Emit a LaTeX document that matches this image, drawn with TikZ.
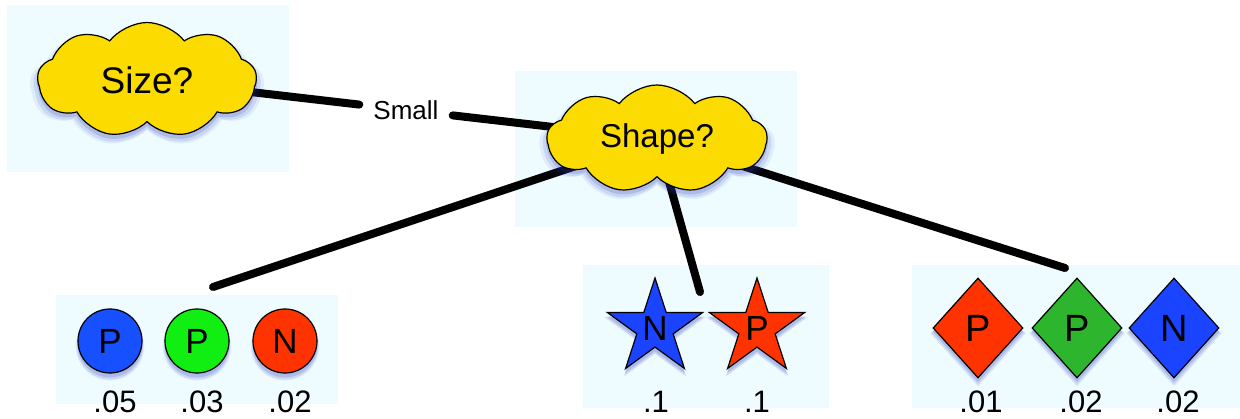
\documentclass[tikz,border=0pt]{standalone}
\usepackage{fontspec}
\setmainfont{Liberation Sans}
\usetikzlibrary{shapes.symbols,shapes.geometric,shadows}
\definecolor{panelc}{HTML}{EEFCFF}
\definecolor{cloudy}{HTML}{FCDC00}
\definecolor{cblue}{HTML}{1650FF}
\definecolor{cgreen}{HTML}{11EE11}
\definecolor{cred}{HTML}{FF3300}
\definecolor{dgreen}{HTML}{2DB52D}
\definecolor{sblue}{HTML}{1A44FF}
\definecolor{shadowc}{HTML}{3040C0}
\pgfdeclarelayer{back}
\pgfdeclarelayer{mid}
\pgfsetlayers{back,mid,main}
\tikzset{
  panel/.style={fill=panelc},
  bshadow/.style={
    drop shadow={shadow xshift=0pt,shadow yshift=-5pt,shadow scale=1.07,opacity=0.08,fill=shadowc},
    drop shadow={shadow xshift=0pt,shadow yshift=-5pt,shadow scale=1.04,opacity=0.12,fill=shadowc},
    drop shadow={shadow xshift=0pt,shadow yshift=-4pt,shadow scale=1.01,opacity=0.18,fill=shadowc}},
  edge/.style={draw=black,line width=8pt,line cap=round},
  cloudnode/.style={cloud,cloud puffs=9,cloud puff arc=105,cloud ignores aspect,draw=black,line width=1.2pt,fill=cloudy,inner sep=0pt,bshadow},
  ball/.style={circle,draw=black,line width=1.2pt,minimum size=64pt,inner sep=0pt,bshadow,font=\fontsize{35}{40}\selectfont},
  starnode/.style={star,star points=5,star point ratio=2.618,draw=black,line width=1.2pt,minimum size=100pt,inner sep=0pt,bshadow,font=\fontsize{35}{40}\selectfont},
  dia/.style={diamond,draw=black,line width=1.2pt,minimum width=90pt,minimum height=100pt,inner sep=0pt,bshadow,font=\fontsize{38}{44}\selectfont},
  prob/.style={inner sep=0pt,font=\fontsize{31}{36}\selectfont},
}
\begin{document}
\begin{tikzpicture}[x=1pt,y=1pt]
\useasboundingbox (0,0) rectangle (1240,418);
\begin{pgfonlayer}{back}
\fill[panel] (7,246) rectangle (289,413);
\fill[panel] (515,191) rectangle (797,347);
\fill[panel] (56,14) rectangle (338,123);
\fill[panel] (583,10) rectangle (829,153);
\fill[panel] (912,10) rectangle (1240,153);
\end{pgfonlayer}
% questions
\node[cloudnode,minimum width=219pt,minimum height=115pt,font=\fontsize{37}{42}\selectfont] (size) at (147,338) {Size?};
\node[cloudnode,minimum width=220pt,minimum height=108pt,font=\fontsize{33}{38}\selectfont] (shape) at (657,279) {Shape?};
\node[inner xsep=14pt,inner ysep=4pt,font=\fontsize{26}{30}\selectfont] (small) at (406,308) {Small};
% leaves
\node[ball,fill=cblue] (b1) at (110,77) {P};
\node[ball,fill=cgreen] (b2) at (197,77) {P};
\node[ball,fill=cred] (b3) at (285,77) {N};
\node[starnode,fill=sblue] (s1) at (655,90) {N};
\node[starnode,fill=cred] (s2) at (757,90) {P};
\node[dia,fill=cred] (d1) at (978,90) {P};
\node[dia,fill=dgreen] (d2) at (1077,90) {P};
\node[dia,fill=sblue] (d3) at (1174,90) {N};
% probabilities
\node[prob] (pb1) at (115,16) {.05};
\node[prob] (pb2) at (202,16) {.03};
\node[prob] (pb3) at (290,16) {.02};
\node[prob] (ps1) at (656,16) {.1};
\node[prob] (ps2) at (757,16) {.1};
\node[prob] (pd1) at (981,16) {.01};
\node[prob] (pd2) at (1081,16) {.02};
\node[prob] (pd3) at (1178,16) {.02};
% connector ends
\coordinate (e1) at (213,131);
\coordinate (e2) at (700,126);
\coordinate (e3) at (1065,150);
\begin{pgfonlayer}{mid}
\draw[edge] (size.center) -- (small);
\draw[edge] (small) -- (shape.center);
\draw[edge] (shape.center) -- (e1);
\draw[edge] (shape.center) -- (e2);
\draw[edge] (shape.center) -- (e3);
\end{pgfonlayer}
\end{tikzpicture}
\end{document}
